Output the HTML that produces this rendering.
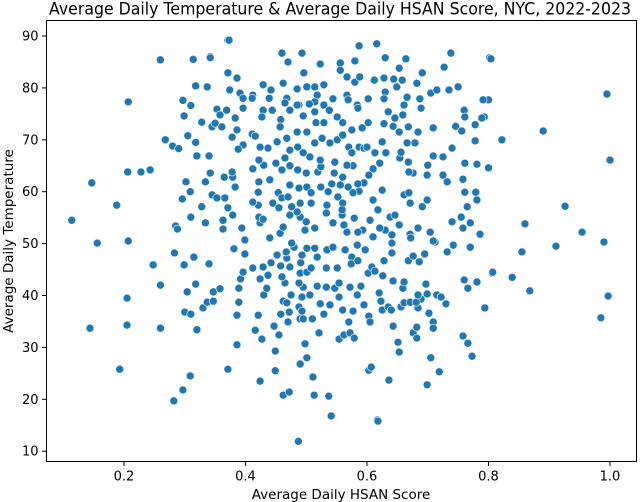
<!DOCTYPE html>
<html><head><meta charset="utf-8">
<style>
html,body{margin:0;padding:0;background:#fff;}
svg{display:block;font-family:"DejaVu Sans","Liberation Sans",sans-serif;}
</style></head>
<body>
<svg id="chart" width="640" height="502" viewBox="0 0 640 502">
<text x="340" y="14.5" text-anchor="middle" font-size="17" textLength="582" lengthAdjust="spacingAndGlyphs" fill="#000">Average Daily Temperature &amp; Average Daily HSAN Score, NYC, 2022-2023</text>
<g id="points"></g>
<rect x="46.5" y="20.5" width="590" height="441" fill="none" stroke="#000" stroke-width="1"></rect>
<g id="xaxis"></g>
<g id="yaxis"></g>
<text x="341" y="499" text-anchor="middle" font-size="13.5">Average Daily HSAN Score</text>
<text transform="translate(13,241) rotate(-90)" text-anchor="middle" font-size="13.5">Average Daily Temperature</text>
</svg>
<script>
const xTicks=[0.2,0.4,0.6,0.8,1.0];
const xTickLabels=["0.2","0.4","0.6","0.8","1.0"];
const yTicks=[10,20,30,40,50,60,70,80,90];
const yTickLabels=["10","20","30","40","50","60","70","80","90"];
const hsan=[0.114,0.147,0.156,0.144,0.188,0.193,0.207,0.207,0.205,0.205,0.206,0.228,0.243,0.248,0.26,0.26,0.26,0.268,0.28,0.282,0.283,0.297,0.3,0.309,0.318,0.314,0.342,0.371,
0.802,0.8,0.793,0.822,0.8,0.806,0.794,0.839,0.855,0.86,0.868,0.89,0.911,0.926,0.954,0.985,0.99,0.995,1.0,0.997,0.487,0.542,0.617,0.537,
0.34,0.33,0.337,0.347,0.347,0.358,0.371,0.386,0.386,0.389,0.389,0.392,0.396,0.416,0.424,0.427,0.421,0.43,0.435,0.424,0.437,0.442,0.449,0.449,0.447,0.455,0.458,0.462,0.462,0.472,0.47,0.472,0.468,0.475,0.465,0.46,0.452,0.468,0.473,0.49,0.501,0.498,0.49,0.495,0.488,0.493,0.493,0.495,0.506,0.488,0.49,0.491,0.501,0.508,0.51,0.511,0.513,0.521,0.518,0.523,0.529,0.533,0.541,0.539,0.547,0.554,0.554,0.56,0.554,0.562,0.57,0.572,0.579,0.577,0.572,0.584,0.595,0.59,0.603,0.605,0.603,0.607,0.618,0.625,0.623,0.62,0.635,0.64,0.643,0.643,0.636,0.651,0.653,0.656,0.661,0.659,0.671,0.676,0.682,0.682,0.684,0.689,0.681,0.684,0.697,0.699,0.702,0.709,0.709,0.705,0.719,0.699,0.715,0.722,0.73,0.758,0.766,0.773,0.794,0.807,0.76,0.766,0.781,
0.381,0.399,0.412,0.429,0.458,0.467,0.48,0.493,0.501,0.514,0.518,0.534,0.533,0.544,0.551,0.564,0.575,0.574,0.585,0.584,0.597,0.602,0.608,0.613,0.626,0.628,0.641,0.641,0.661,0.668,0.676,0.686,0.695,0.712,0.732,0.742,0.77,
0.373,0.342,0.337,0.46,0.493,0.47,0.523,0.587,0.616,0.556,0.58,0.63,0.664,0.738,0.727,0.804,0.371,0.386,0.374,0.391,0.396,0.412,0.429,0.442,0.439,0.462,0.485,0.496,0.501,0.514,0.529,0.518,0.468,0.465,0.488,0.514,0.529,0.544,0.556,0.567,0.58,0.588,0.567,0.584,0.602,0.612,0.628,0.63,0.628,0.644,0.658,0.653,0.649,0.666,0.661,0.682,0.691,0.687,0.689,0.705,0.715,0.735,0.75,0.791,0.76,0.761,0.789,0.778,0.746,0.756,0.709,0.684,0.668,0.659,0.646,0.635,0.628,0.643,0.653,0.602,0.585,0.592,0.56,0.551,0.538,0.514,0.516,0.529,0.495,0.505,0.485,0.473,0.458,0.457,0.444,0.429,0.427,0.411,0.396,0.383,0.369,0.353,0.358,0.345,0.328,0.361,0.378,0.386,0.411,0.416,0.437,0.424,0.452,0.468,0.485,0.501,0.473,0.486,0.514,0.526,0.539,0.551,0.56,0.57,0.587,0.575,0.595,0.625,0.631,0.61,0.621,0.603,0.595,0.587,0.569,0.556,0.542,0.534,0.552,0.56,0.577,0.585,0.61,0.618,0.625,0.638,0.646,0.661,0.671,0.669,0.691,0.699,0.725,0.732,0.699,0.7,0.676,0.669,0.668,0.654,0.656,0.666,0.679,0.709,0.725,0.74,0.761,0.778,0.781,0.758,0.761,0.779,0.765,0.755,0.781,0.77,0.786,0.758,0.74,0.742,0.709,0.704,0.684,0.671,0.672,0.653,0.641,0.63,0.621,0.605,0.61,0.593,0.579,0.585,0.567,0.562,0.559,0.559,0.544,0.533,0.514,0.498,0.49,0.5,0.485,0.476,0.473,0.488,0.501,0.508,0.524,0.519,0.524,0.5,0.486,0.473,0.46,0.45,0.454,0.445,0.455,0.46,0.44,0.422,0.421,0.412,0.43,0.424,0.422,0.429,0.421,0.44,0.457,0.462,0.473,0.476,0.396,0.422,0.379,0.378,0.365,0.383,0.342,0.334,0.345,0.353,0.366,0.371,0.379,0.363,0.363,0.334,0.328,0.394,0.399,0.412,0.34,0.35,0.388,0.569,0.575,0.6,0.613,0.577,0.567,0.547,0.546,0.56,0.536,0.508,0.49,0.47,0.523,0.506,0.495,0.465,
0.297,0.299,0.31,0.305,0.318,0.29,0.32,0.302,0.309,0.296,0.31,0.285,0.315,0.299,0.318,0.304,0.31,0.32,0.288];
const temp=[54.5,61.7,50.1,33.7,57.4,25.8,77.3,50.5,39.5,34.3,63.8,63.8,64.2,45.9,42,85.4,33.7,70,68.8,19.7,48.2,21.8,36.8,24.5,80.4,85.5,86,89.2,
85.8,77.7,74.4,70,64.6,44.3,37.6,43.5,48.4,53.8,40.9,71.7,49.5,57.2,52.2,35.7,50.3,78.8,66.1,39.9,11.9,16.8,16,20.6,
46.1,37.6,38.7,38.9,40.7,41.3,25.8,30.5,36.2,38.7,41.4,43.2,44.5,33.3,23.5,31.6,36.2,40.1,41.4,43.2,43.9,46.3,25.5,29.3,34.1,32.4,36.4,38.9,20.8,21.4,34.9,36.8,38.6,40.1,42.4,43.6,47.8,47.2,45.5,26.8,28,30.7,35.5,35.5,37.8,37,39.7,41.6,40.1,42.4,44.3,46.3,44.5,45.3,35.5,24.3,20.8,32.8,41.8,38.4,36.4,41.6,16.8,38.2,41.4,39.7,42.4,37.2,31.6,32.4,34.9,32.8,31.8,37,41.6,40.1,38.2,41.8,36,34.9,25.6,26.2,15.8,37.2,38.9,40.5,37.8,37.2,42.8,34.1,23.7,31,29.1,37.8,38.6,41.4,38.7,32.8,31.8,33.9,37.6,39.3,38.7,40.1,42.2,40.3,36.6,34.9,33.7,28,25.3,22.8,40.1,39.7,38.4,32.2,30.8,28.3,37.6,44.5,43,41.4,42.6,
49,48,45.3,45.5,45.7,48.4,49.3,47.8,49.1,49.1,47.4,48.8,45.3,49.3,45.3,48.8,47.4,46.1,46.7,49.7,48.8,44.3,45.5,44.7,43.8,46.7,50.1,48.2,42.6,46.7,47.6,46.5,48,50.3,48.4,49.7,49.3,
89.2,85.8,80.2,86.7,86.7,85,84.6,88.1,88.5,84.8,85.2,85.8,85.6,86.7,84,85.6,82.9,81.9,79.6,79,78,78.6,80.6,79.6,78,80.9,79.8,82.9,80.2,80.2,80.6,78.6,78,77.1,76.7,77.3,76.7,77.9,83.4,82.1,81.1,82.1,78.6,76.7,77.9,81.5,81.9,79.2,77.9,81.7,81.5,83.8,80.2,78.2,76.7,80.9,82.9,77.9,76.1,79,79.6,79.6,80.2,77.7,75.7,74.4,74.2,72.9,72.6,71.7,72.3,71.5,72.5,74.8,74.2,75.4,73.1,72.6,71.5,73.3,76.1,72.3,73.3,74.4,75.7,75.4,73.3,73.3,74.6,76.9,76.7,75.7,73.9,72.5,75.7,75.7,74.4,78,76.1,74.2,75.7,75.9,74.8,72.5,73.4,72.5,70.5,71.9,71.1,70.7,68.4,68.6,69.6,70.3,71.5,71.5,68,68.6,69.4,70.3,69.4,70,70.9,68.6,68.6,67.5,68.4,69.6,67.5,64.4,65.5,63.2,61.7,60.1,60.9,61.3,61.5,57.4,59,57.8,59.8,61.5,58.4,56.5,60.3,55.1,55.5,59.4,57.8,59.8,57.1,58.4,63.2,61.9,63.2,65.1,63.6,63.8,65.7,66.5,67.6,69.4,69.4,66.9,66.7,68.4,65.5,69.8,65.3,62.4,59.9,59.9,57.1,55.1,58.4,54,51.8,53,54.2,49.7,50.5,52.2,53,51.8,51.1,53.6,51.7,52.6,53,54.5,51.3,52.6,54.9,52.2,52.2,53.6,55.5,56.5,54,55.9,53,52.6,55.1,54.2,56.1,57.1,61.3,60.7,60.9,59.8,60.9,63.8,64.8,63.6,64.2,65,64.2,65.5,59.8,57.8,56.9,58.8,62.3,61.9,59.9,64.4,65.1,54,55.1,54.7,57.4,51.1,52,53.2,55.5,50.1,69,66.1,62.8,63.8,62.8,60.9,63.6,61.9,59.4,58.8,58.8,56.9,55.5,54.5,52.8,54,57.1,53,50.7,58,66.9,73.2,68.2,77.7,71.9,68.6,67.5,65,65.1,65.7,63.6,62.8,60,57.8,57.8,59,66.1,66.7,67.5,66.5,
77.6,74.6,76.6,70.8,69.5,68.3,66.9,61.9,60,58.6,55.1,53.4,47.4,45.9,42.2,40.7,36.4,33.4,52.8];

const SVGNS="http://www.w3.org/2000/svg";
const X0=46.5,X1=636.5,Y0=20.5,Y1=461.5;
function sx(v){return 124+(v-0.2)*607.5;}
function sy(v){return 36+(90-v)*5.19;}

const xa=document.getElementById('xaxis');
xTicks.forEach((t,i)=>{
  const l=document.createElementNS(SVGNS,'line');
  l.setAttribute('x1',sx(t));l.setAttribute('x2',sx(t));l.setAttribute('y1',Y1);l.setAttribute('y2',Y1+4.5);
  l.setAttribute('stroke','#000');
  
  
  xa.appendChild(l);
  const tx=document.createElementNS(SVGNS,'text');
  tx.setAttribute('x',sx(t));tx.setAttribute('y',Y1+19);tx.setAttribute('text-anchor','middle');tx.setAttribute('font-size','13');
  tx.textContent=xTickLabels[i];
  
  
  xa.appendChild(tx);
});
const ya=document.getElementById('yaxis');
yTicks.forEach((t,i)=>{
  const l=document.createElementNS(SVGNS,'line');
  l.setAttribute('x1',X0-4.5);l.setAttribute('x2',X0);l.setAttribute('y1',sy(t));l.setAttribute('y2',sy(t));
  l.setAttribute('stroke','#000');
  
  
  ya.appendChild(l);
  const tx=document.createElementNS(SVGNS,'text');
  tx.setAttribute('x',X0-8);tx.setAttribute('y',sy(t)+4.5);tx.setAttribute('text-anchor','end');tx.setAttribute('font-size','13');
  tx.textContent=yTickLabels[i];
  
  
  ya.appendChild(tx);
});
const pg=document.getElementById('points');
const n=Math.min(hsan.length,temp.length);
for(let i=0;i<n;i++){
  const c=document.createElementNS(SVGNS,'circle');
  c.setAttribute('cx',sx(hsan[i]));c.setAttribute('cy',sy(temp[i]));c.setAttribute('r','4');
  c.setAttribute('fill','#1f77b4');c.setAttribute('stroke','#fff');c.setAttribute('stroke-width','0.6');
  
  
  pg.appendChild(c);
}
</script>
</body></html>
